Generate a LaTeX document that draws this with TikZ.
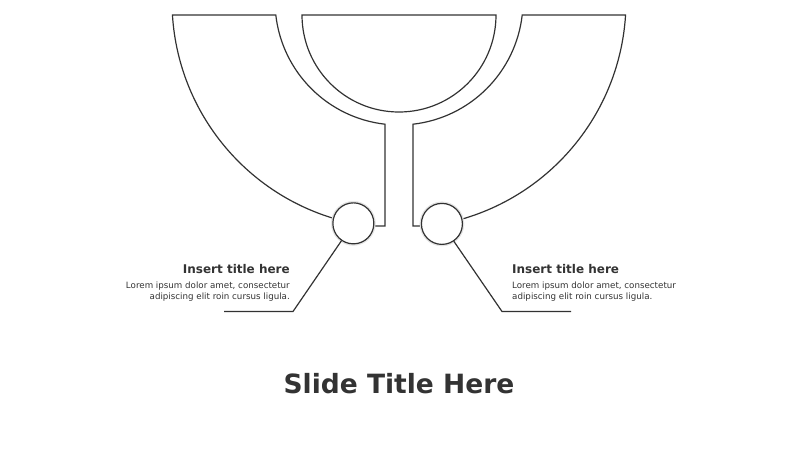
\documentclass[tikz,border=0pt]{standalone}
\usepackage{fontspec}
\setmainfont{DejaVu Sans}
\usepackage{tikz}
\definecolor{ln}{RGB}{50, 50, 50}
\definecolor{tx}{RGB}{51, 51, 51}
\usetikzlibrary{positioning}
\usetikzlibrary{calc}

\begin{document}
\begin{tikzpicture}[x=1pt, y=1pt,
  outline/.style={line width=1.2pt, color=ln, line join=miter},
  dot/.style={circle, minimum size=41pt, inner sep=0pt, fill=white, line width=1.2pt, draw=ln, preaction={draw=black!10, line width=3.5pt}},
  head/.style={font=\fontsize{12}{14}\selectfont\bfseries, text=tx, inner sep=0pt},
  body/.style={font=\fontsize{8.7}{11.5}\selectfont, text=tx, inner sep=0pt}]
\useasboundingbox (0, 0) rectangle (800, -450);
\coordinate (c) at (399, -1);
% bowl
\coordinate (bl) at (302, -15);
\coordinate (br) at (496, -15);
\draw [outline] (bl) -- (br) arc [start angle=0, end angle=-180, radius=97] -- cycle;
% left wing
\coordinate (li) at ($(c)+(186.48:124)$);
\coordinate (lv) at (385, -226);
\node (lc) [dot] at ($(c)+(258.4:227)$) {};
\draw [outline] (lc.center) arc [start angle=258.4, end angle=183.54, radius=227] -- (li) arc [start angle=186.48, end angle=263.52, radius=124] -- (lv) -- (lc.center |- lv);
% right wing
\coordinate (ri) at ($(c)+(-6.48:124)$);
\coordinate (rv) at (413, -226);
\node (rc) [dot] at ($(c)+(280.9:227)$) {};
\draw [outline] (rc.center) arc [start angle=-79.1, end angle=-3.54, radius=227] -- (ri) arc [start angle=-6.48, end angle=-83.52, radius=124] -- (rv) -- (rc.center |- rv);
% circles on top
\node (lc2) [dot] at (lc) {};
\node (rc2) [dot] at (rc) {};
% leaders
\coordinate (le) at (293, -311.5);
\coordinate (lend) at (224, -311.5);
\coordinate (re) at (502, -311.5);
\coordinate (rend) at (571, -311.5);
\draw [outline] (lc2) -- (le) -- (lend);
\draw [outline] (rc2) -- (re) -- (rend);
% texts
\node (lh) [head, anchor=base east] at (290, -273.5) {Insert title here};
\node (lb) [body, align=right, anchor=base east] at (290, -299.8) {Lorem ipsum dolor amet, consectetur\\adipiscing elit roin cursus ligula.};
\node (rh) [head, anchor=base west] at (512, -273.5) {Insert title here};
\node (rb) [body, align=left, anchor=base west] at (512, -299.8) {Lorem ipsum dolor amet, consectetur\\adipiscing elit roin cursus ligula.};
\node (title) [font=\fontsize{26.5}{30}\selectfont\bfseries, text=tx, inner sep=0pt, anchor=base] at (399, -393.5) {Slide Title Here};
\end{tikzpicture}
\end{document}
